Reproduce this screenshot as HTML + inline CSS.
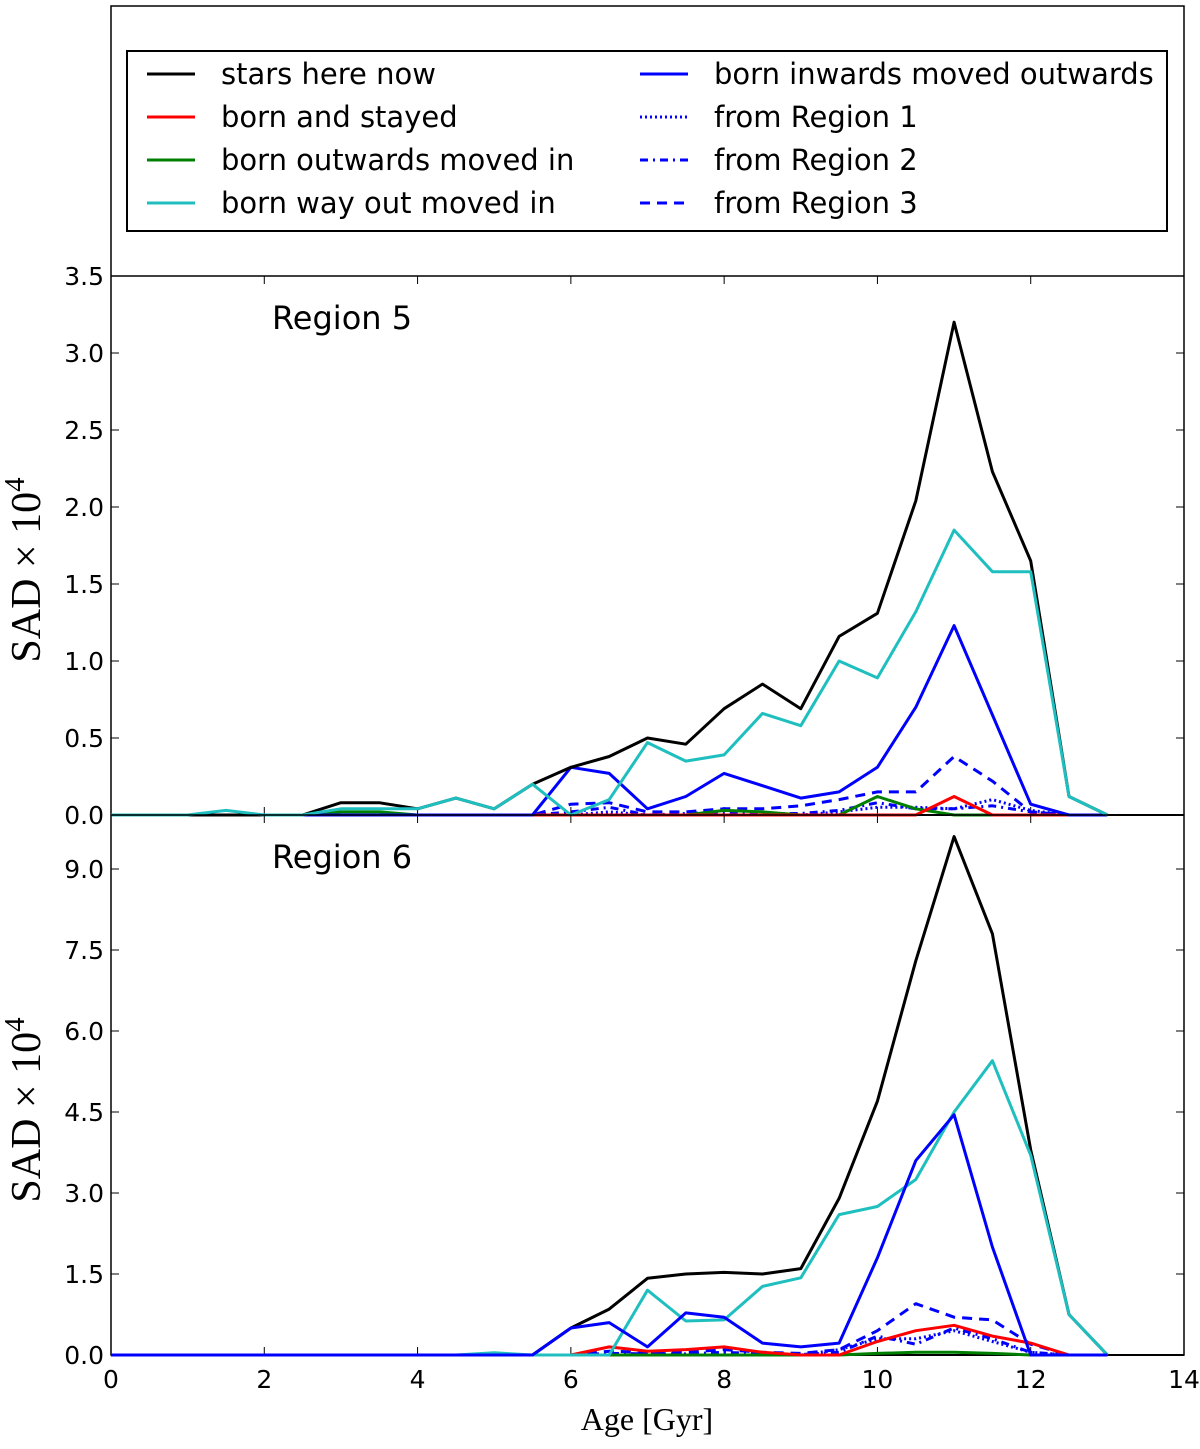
<!DOCTYPE html>
<html><head><meta charset="utf-8"><style>
body{margin:0;background:#fff}
svg text{font-family:"DejaVu Sans","Liberation Sans",sans-serif}
</style></head><body>
<svg id="chart" width="1200" height="1444" xmlns="http://www.w3.org/2000/svg">
<rect x="111" y="6" width="1073" height="1349" fill="none" stroke="#000" stroke-width="1.5"/>
<g id="legend"></g>
<g id="p1"></g>
<g id="p2"></g>
<text x="30" y="560" font-size="42" transform="rotate(-90 40 560)" text-anchor="middle" style="font-family:'Liberation Serif',serif">SAD  × 10<tspan dy="-16" font-size="29">4</tspan></text>
<text x="30" y="1100" font-size="42" transform="rotate(-90 40 1100)" text-anchor="middle" style="font-family:'Liberation Serif',serif">SAD  × 10<tspan dy="-16" font-size="29">4</tspan></text>
<text x="647" y="1430" font-size="32" text-anchor="middle" style="font-family:'Liberation Serif',serif">Age [Gyr]</text>
</svg>
<script>
const ages=[0,0.5,1,1.5,2,2.5,3,3.5,4,4.5,5,5.5,6,6.5,7,7.5,8,8.5,9,9.5,10,10.5,11,11.5,12,12.5,13];
const xTicks=[0,2,4,6,8,10,12,14];
const yTicks1=[0.0,0.5,1.0,1.5,2.0,2.5,3.0,3.5];
const yTicks2=[0.0,1.5,3.0,4.5,6.0,7.5,9.0];
// Region 5
const r5Black=[0,0,0,0,0,0,0.08,0.08,0.04,0.11,0.04,0.2,0.31,0.38,0.5,0.46,0.69,0.85,0.69,1.16,1.31,2.04,3.2,2.23,1.65,0.12,0];
const r5Red=[0,0,0,0,0,0,0,0,0,0,0,0,0,0,0,0,0,0,0,0,0,0,0.12,0,0,0,0];
const r5Green=[0,0,0,0,0,0,0.02,0.02,0,0,0,0,0,0,0,0,0.03,0.02,0,0,0.12,0.04,0,0,0,0,0];
const r5Cyan=[0,0,0,0.03,0,0,0.04,0.04,0.04,0.11,0.04,0.2,0,0.1,0.47,0.35,0.39,0.66,0.58,1.0,0.89,1.32,1.85,1.58,1.58,0.12,0];
const r5Blue=[0,0,0,0,0,0,0,0,0,0,0,0,0.31,0.27,0.04,0.12,0.27,0.19,0.11,0.15,0.31,0.7,1.23,0.65,0.07,0,0];
const r5R1=[0,0,0,0,0,0,0,0,0,0,0,0,0,0.02,0,0,0,0,0,0.02,0.05,0.05,0.04,0.1,0.03,0,0];
const r5R2=[0,0,0,0,0,0,0,0,0,0,0,0,0.02,0.05,0,0.01,0.02,0.01,0.01,0.03,0.08,0.04,0.04,0.06,0.02,0,0];
const r5R3=[0,0,0,0,0,0,0,0,0,0,0,0,0.07,0.08,0.02,0.02,0.04,0.04,0.06,0.1,0.15,0.15,0.38,0.22,0.02,0,0];
// Region 6
const r6Black=[0,0,0,0,0,0,0,0,0,0,0,0,0.5,0.85,1.42,1.5,1.53,1.5,1.6,2.9,4.7,7.3,9.6,7.8,3.8,0.75,0];
const r6Red=[0,0,0,0,0,0,0,0,0,0,0,0,0,0.15,0.07,0.1,0.15,0.05,0,0,0.25,0.45,0.55,0.35,0.22,0,0];
const r6Green=[0,0,0,0,0,0,0,0,0,0,0,0,0,0,0,0,0,0,0,0,0.03,0.05,0.05,0.03,0,0,0];
const r6Cyan=[0,0,0,0,0,0,0,0,0,0,0.04,0,0,0,1.2,0.63,0.65,1.27,1.43,2.6,2.75,3.25,4.5,5.45,3.7,0.75,0];
const r6Blue=[0,0,0,0,0,0,0,0,0,0,0,0,0.5,0.6,0.15,0.78,0.7,0.22,0.15,0.22,1.8,3.6,4.45,2.0,0,0,0];
const r6R1=[0,0,0,0,0,0,0,0,0,0,0,0,0,0,0,0,0,0,0,0.1,0.3,0.3,0.45,0.25,0.05,0,0];
const r6R2=[0,0,0,0,0,0,0,0,0,0,0,0,0,0.03,0.02,0.02,0.05,0.02,0.01,0.05,0.35,0.2,0.5,0.3,0.05,0,0];
const r6R3=[0,0,0,0,0,0,0,0,0,0,0,0,0,0.07,0.05,0.05,0.1,0.05,0.03,0.1,0.45,0.95,0.7,0.65,0.2,0,0];

const NS='http://www.w3.org/2000/svg';
const X0=111,X1=1184;
const xs=v=>X0+(X1-X0)*v/14;
function mk(tag,attrs,parent){const e=document.createElementNS(NS,tag);for(const k in attrs)e.setAttribute(k,attrs[k]);parent.appendChild(e);return e;}

const styles={black:['#000',''],red:['#f00',''],green:['#008000',''],cyan:['#1fbfbf',''],blue:['#00f',''],r1:['#00f','2,3'],r2:['#00f','8,5,2,5'],r3:['#00f','10,7']};

function panel(g,top,bot,ymax,yTicks,series,label,showX){
  const ys=v=>bot-(bot-top)*v/ymax;
  mk('line',{x1:X0,y1:top,x2:X1,y2:top,stroke:'#000','stroke-width':1.5},g);
  mk('line',{x1:X0,y1:bot,x2:X1,y2:bot,stroke:'#000','stroke-width':2},g);
  for(const t of yTicks){
    const y=ys(t);
    mk('line',{x1:X0,y1:y,x2:X0+8,y2:y,stroke:'#000'},g);
    mk('line',{x1:X1,y1:y,x2:X1-8,y2:y,stroke:'#000'},g);
    const tx=mk('text',{x:104,y:y+9,'font-size':25,'text-anchor':'end'},g);
    tx.textContent=t.toFixed(1);
    
    
  }
  for(const t of xTicks){
    const x=xs(t);
    mk('line',{x1:x,y1:top,x2:x,y2:top+8,stroke:'#000'},g);
    mk('line',{x1:x,y1:bot,x2:x,y2:bot-8,stroke:'#000'},g);
    if(showX){const tx=mk('text',{x:x,y:1388,'font-size':25,'text-anchor':'middle'},g);tx.textContent=t;
      
      }
  }
  for(const [key,arr,name] of series){
    const pts=arr.map((v,i)=>xs(ages[i]).toFixed(1)+','+ys(v).toFixed(1)).join(' ');
    const [c,d]=styles[key];
    const pl=mk('polyline',{points:pts,fill:'none',stroke:c,'stroke-width':3,'stroke-linejoin':'round'},g);
    if(d)pl.setAttribute('stroke-dasharray',d);
    
    
  }
  const lt=mk('text',{x:272,y:top+53,'font-size':32},g);lt.textContent=label;
  
  
}
panel(document.getElementById('p1'),276,815,3.5,yTicks1,[
 ['r1',r5R1,'r5-from-region-1'],['r2',r5R2,'r5-from-region-2'],['r3',r5R3,'r5-from-region-3'],
 ['green',r5Green,'r5-born-outwards-moved-in'],['red',r5Red,'r5-born-and-stayed'],
 ['blue',r5Blue,'r5-born-inwards-moved-outwards'],['black',r5Black,'r5-stars-here-now'],['cyan',r5Cyan,'r5-born-way-out-moved-in']],'Region 5',false);
panel(document.getElementById('p2'),815,1355,10,yTicks2,[
 ['r1',r6R1,'r6-from-region-1'],['r2',r6R2,'r6-from-region-2'],['r3',r6R3,'r6-from-region-3'],
 ['green',r6Green,'r6-born-outwards-moved-in'],['red',r6Red,'r6-born-and-stayed'],
 ['black',r6Black,'r6-stars-here-now'],['cyan',r6Cyan,'r6-born-way-out-moved-in'],['blue',r6Blue,'r6-born-inwards-moved-outwards']],'Region 6',true);

const lg=document.getElementById('legend');
mk('rect',{x:127,y:51,width:1040,height:180,fill:'#fff',stroke:'#000','stroke-width':2},lg);
const entries=[['black','stars here now',147,74],['red','born and stayed',147,117],['green','born outwards moved in',147,160],['cyan','born way out moved in',147,203],
['blue','born inwards moved outwards',640,74],['r1','from Region 1',640,117],['r2','from Region 2',640,160],['r3','from Region 3',640,203]];
for(const [k,t,x,y] of entries){
  const [c,d]=styles[k];
  const ln=mk('line',{x1:x,y1:y,x2:x+48,y2:y,stroke:c,'stroke-width':3},lg);
  if(d)ln.setAttribute('stroke-dasharray',d);
  const tx=mk('text',{x:x+74,y:y+10,'font-size':29},lg);tx.textContent=t;
  
  
}
</script>
</body></html>
